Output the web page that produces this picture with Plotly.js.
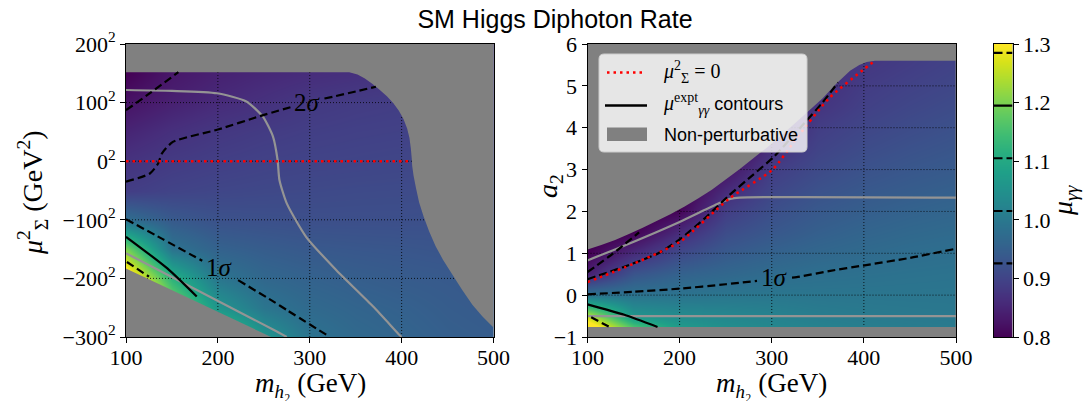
<!DOCTYPE html>
<html><head><meta charset="utf-8">
<script src="https://cdn.plot.ly/plotly-3.0.1.min.js"></script>
<style>html,body{margin:0;padding:0;background:#fff;} #chart{width:1086px;height:401px;}</style>
</head><body><div id="chart"></div>
<script>
// ---------- data ----------
const mH2 = [100,150,200,250,300,350,400,450,500];            // m_h2 grid (GeV)
const muSig = [-300,-250,-200,-150,-100,-50,0,50,100,150,200];  // signed sqrt(mu_Sigma^2)
const a2Vals = [-1,-0.5,0,0.5,1,1.5,2,2.5,3,3.5,4,4.5,5,5.5,6];

const muLeft = [
  [1.60,1.45,1.20,1.06,0.99,0.97,0.96,0.95,0.945],
  [1.50,1.22,1.06,0.995,0.97,0.96,0.953,0.945,0.94],
  [1.35,1.12,0.995,0.965,0.955,0.948,0.943,0.94,0.935],
  [1.20,0.99,0.955,0.945,0.938,0.935,0.933,0.93,0.93],
  [0.98,0.94,0.925,0.922,0.92,0.92,0.92,0.922,0.923],
  [0.89,0.90,0.905,0.908,0.91,0.912,0.913,0.914,0.915],
  [0.872,0.885,0.892,0.897,0.90,0.902,0.904,0.905,0.905],
  [0.85,0.868,0.88,0.887,0.892,0.895,0.897,0.90,0.90],
  [0.825,0.845,0.86,0.87,0.882,0.887,0.89,0.893,0.895],
  [0.80,0.83,0.845,0.855,0.862,0.868,0.875,0.88,0.885],
  [0.78,0.805,0.83,0.845,0.855,0.862,0.87,0.875,0.88]
];
const muRight = [
  [1.45,1.25,1.10,1.06,1.04,1.03,1.02,1.015,1.01],
  [1.25,1.06,1.04,1.03,1.02,1.01,1.005,1.002,1.0],
  [0.99,0.99,0.99,0.995,0.997,0.995,0.995,0.995,0.995],
  [0.845,0.93,0.955,0.965,0.975,0.982,0.985,0.988,0.99],
  [0.80,0.86,0.91,0.94,0.955,0.965,0.972,0.978,0.982],
  [0.78,0.80,0.86,0.915,0.935,0.95,0.96,0.967,0.972],
  [0.77,0.78,0.805,0.89,0.92,0.938,0.948,0.956,0.962],
  [0.77,0.78,0.79,0.86,0.905,0.925,0.937,0.945,0.952],
  [0.77,0.78,0.78,0.825,0.89,0.912,0.926,0.935,0.942],
  [0.77,0.78,0.78,0.80,0.865,0.90,0.915,0.925,0.933],
  [0.77,0.78,0.78,0.80,0.845,0.89,0.905,0.915,0.924],
  [0.77,0.78,0.78,0.80,0.83,0.875,0.895,0.906,0.915],
  [0.77,0.78,0.78,0.80,0.83,0.865,0.888,0.898,0.907],
  [0.77,0.78,0.78,0.80,0.83,0.86,0.88,0.89,0.90],
  [0.77,0.78,0.78,0.80,0.83,0.85,0.875,0.885,0.895]
];

// non-perturbative boundaries
const npLeftTopX = [100,343,352,360,368,376,384,391,397,402,406,408.5,410,411,411.5,413,415.5,419,424,430,437,445,455,466,477,488,500];
const npLeftTopY = [152,152,148,141,132,122,111,99,86,72,56,40,22,5,-8,-25,-45,-70,-95,-120,-145,-168,-193,-220,-245,-265,-284];
const npLeftBotX = [100,258];
const npLeftBotY = [-183,-300];
const npRightTopX = [100,115,130,145,160,175,190,205,220,235,250,265,280,295,310,325,340,355,370,385,395,403,412,500];
const npRightTopY = [1.09,1.2,1.32,1.46,1.61,1.77,1.93,2.11,2.31,2.52,2.76,3.01,3.27,3.53,3.81,4.1,4.4,4.7,5.05,5.36,5.5,5.57,5.6,5.6];
const npRightBot = -0.76;

// left panel contours
const lA_x = [100,126,157],            lA_y = [87,116,152];
const lB_x = [100,126,135,139,151,200,246,283,null,316,325,350,372];
const lB_y = [-35,-21,-4,13,33,54,77,94,null,107,110,119,127];
const lC_x = [100,140,183,null,222,261,275,322];
const lC_y = [-99,-133,-170,null,-203,-240,-254,-300];
const lD_x = [100,145,177],            lD_y = [-129,-183,-231];
const lE_x = [101,125],                lE_y = [-172,-197];
const lG1_x = [100,150,199,231,249,260,265,267,275,296,329,369,398,400];
const lG1_y = [121.5,120,116,102,76,42,2,-32,-72,-129,-186,-248,-297,-300];
const lG2_x = [100,261,275],           lG2_y = [-157,-288,-300];
const lRed_x = [100,411],              lRed_y = [0,0];

// right panel contours
const rA_x = [100,128,156],            rA_y = [0.55,1.0,1.5];
const rB_x = [100,140,176,200,228,254,280,302,335,355,372];
const rB_y = [0.38,0.68,0.99,1.33,1.85,2.39,2.88,3.30,4.10,4.6,5.08];
const rC_x = [100,150,200,250,284,null,322,327,363.5,399,450,500];
const rC_y = [0.02,0.08,0.155,0.26,0.34,null,0.42,0.43,0.58,0.706,0.89,1.11];
const rD_x = [100,140,176],            rD_y = [-0.22,-0.47,-0.76];
const rE_x = [104,123],                rE_y = [-0.53,-0.75];
const rG1_x = [100,145,200,242,255,265,500];
const rG1_y = [0.83,1.23,1.75,2.19,2.30,2.33,2.33];
const rG2_x = [100,500],               rG2_y = [-0.5,-0.5];
const rRed_x = [100,150,200,254,301,326,362,399,412];
const rRed_y = [0.31,0.75,1.27,2.31,3.0,3.72,4.7,5.38,5.6];

// colorbar
const cbRange = [0.8,1.3];
const cbLevels = [0.9258,1.015,1.105,1.195,1.285];
const cbSolid  = [false,false,false,true,false];

// ticks
const xTicks = [100,200,300,400,500];
const yTicksL = [200,100,0,-100,-200,-300];
const yTickTextL = ['200<sup>2</sup>','100<sup>2</sup>','0<sup>2</sup>','−100<sup>2</sup>','−200<sup>2</sup>','−300<sup>2</sup>'];
const yTicksR = [-1,0,1,2,3,4,5,6];
const yTickTextR = ['−1','0','1','2','3','4','5','6'];
const cbTicks = [0.8,0.9,1.0,1.1,1.2,1.3];
const cbTickText = ['0.8','0.9','1.0','1.1','1.2','1.3'];

// legend labels
const legendLabels = [
  '<i>μ</i><sup>2</sup><sub>Σ</sub> = 0',
  '<span style="font-family:Liberation Serif;font-size:20px"><i>μ</i><sup>expt</sup><sub><i>γγ</i></sub></span> contours',
  'Non-perturbative'
];

// ---------- drawing ----------
const W = 1086, H = 401;
const px = v => v / W, py = v => 1 - v / H;
const SERIF = 'Liberation Serif', SANS = 'Liberation Sans';
const GREY = '#808080', GREYLINE = '#949494';
const DASH = '8px,4px', DOT = '2.5px,4px';
const xr = [100,500], yrL = [-300,200], yrR = [-1,6];

function gridTrace(xt, yt, xrange, yrange, xa, ya){
  const gx = [], gy = [];
  xt.forEach(v => { if (v > xrange[0] && v < xrange[1]) { gx.push(v,v,null); gy.push(yrange[0],yrange[1],null); }});
  yt.forEach(v => { if (v > yrange[0] && v < yrange[1]) { gx.push(xrange[0],xrange[1],null); gy.push(v,v,null); }});
  return {type:'scatter', mode:'lines', x:gx, y:gy, xaxis:xa, yaxis:ya, showlegend:false, hoverinfo:'skip',
          line:{color:'rgba(0,0,0,0.8)', width:1, dash:'1px,2px'}};
}
function line(x, y, xa, ya, color, dash, width){
  return {type:'scatter', mode:'lines', x:x, y:y, xaxis:xa, yaxis:ya, showlegend:false, hoverinfo:'skip',
    connectgaps:false, line:{color:color, dash:dash, width:width, shape:'spline', smoothing:0.6}};
}
function fillPoly(x, y, xa, ya){
  return {type:'scatter', mode:'none', x:x, y:y, xaxis:xa, yaxis:ya, fill:'toself', fillcolor:GREY,
    showlegend:false, hoverinfo:'skip'};
}

const traces = [];
traces.push({type:'heatmap', x:mH2, y:muSig, z:muLeft, xaxis:'x', yaxis:'y', colorscale:'Viridis', zmin:cbRange[0], zmax:cbRange[1],
  zsmooth:'best', hoverinfo:'skip', showscale:false});
traces.push({type:'heatmap', x:mH2, y:a2Vals, z:muRight, xaxis:'x2', yaxis:'y2', colorscale:'Viridis', zmin:cbRange[0], zmax:cbRange[1],
  zsmooth:'best', hoverinfo:'skip', showscale:false});
// colour bar as its own small axis
traces.push({type:'heatmap', x:[0,1], y:cbRange, z:cbRange.map(v => [v,v]), xaxis:'x3', yaxis:'y3', colorscale:'Viridis',
  zmin:cbRange[0], zmax:cbRange[1], zsmooth:'best', hoverinfo:'skip', showscale:false});

traces.push(gridTrace(xTicks, yTicksL, xr, yrL, 'x', 'y'));
traces.push(gridTrace(xTicks, yTicksR, xr, yrR, 'x2', 'y2'));

// non-perturbative regions
traces.push(fillPoly([xr[0]].concat(npLeftTopX, [xr[1]]), [yrL[1]].concat(npLeftTopY, [yrL[1]]), 'x', 'y'));
traces.push(fillPoly(npLeftBotX.concat([xr[0]]), npLeftBotY.concat([yrL[0]]), 'x', 'y'));
traces.push(fillPoly([xr[0]].concat(npRightTopX, [xr[1]]), [yrR[1]].concat(npRightTopY, [yrR[1]]), 'x2', 'y2'));
traces.push(fillPoly([xr[0],xr[1],xr[1],xr[0]], [yrR[0],yrR[0],npRightBot,npRightBot], 'x2', 'y2'));

// grey lines
traces.push(line(lG1_x, lG1_y, 'x', 'y', GREYLINE, 'solid', 2.2));
traces.push(line(lG2_x, lG2_y, 'x', 'y', GREYLINE, 'solid', 2.2));
traces.push(line(rG1_x, rG1_y, 'x2', 'y2', GREYLINE, 'solid', 2.2));
traces.push(line(rG2_x, rG2_y, 'x2', 'y2', GREYLINE, 'solid', 2.2));

// contours
[[lA_x,lA_y],[lB_x,lB_y],[lC_x,lC_y],[lE_x,lE_y]].forEach(p => traces.push(line(p[0], p[1], 'x', 'y', '#000', DASH, 2.2)));
traces.push(line(lD_x, lD_y, 'x', 'y', '#000', 'solid', 2.2));
[[rA_x,rA_y],[rB_x,rB_y],[rC_x,rC_y],[rE_x,rE_y]].forEach(p => traces.push(line(p[0], p[1], 'x2', 'y2', '#000', DASH, 2.2)));
traces.push(line(rD_x, rD_y, 'x2', 'y2', '#000', 'solid', 2.2));

// mu_Sigma^2 = 0
traces.push(line(lRed_x, lRed_y, 'x', 'y', '#ff0000', DOT, 2.5));
traces.push(line(rRed_x, rRed_y, 'x2', 'y2', '#ff0000', DOT, 2.5));

// colorbar contour marks
cbLevels.forEach((v,i) => traces.push({type:'scatter', mode:'lines', x:[0,1], y:[v,v], xaxis:'x3', yaxis:'y3',
  showlegend:false, hoverinfo:'skip', line:{color:'#000', width:2.2, dash: cbSolid[i] ? 'solid' : '9px,4px'}}));

const yDom = [(H-337)/H, (H-44)/H];
const axBase = {showline:true, linecolor:'#000', linewidth:1, mirror:true, ticks:'outside', ticklen:5, tickwidth:1,
  tickcolor:'#000', showgrid:false, zeroline:false, tickfont:{family:SERIF, size:22, color:'#000'}, fixedrange:true};

// legend (drawn as shapes + text, matplotlib style with rounded frame)
const L = {x0:599, x1:807, y0:54, y1:152, r:5};
const roundRect = `M ${px(L.x0+L.r)},${py(L.y0)} L ${px(L.x1-L.r)},${py(L.y0)} Q ${px(L.x1)},${py(L.y0)} ${px(L.x1)},${py(L.y0+L.r)} ` +
  `L ${px(L.x1)},${py(L.y1-L.r)} Q ${px(L.x1)},${py(L.y1)} ${px(L.x1-L.r)},${py(L.y1)} L ${px(L.x0+L.r)},${py(L.y1)} ` +
  `Q ${px(L.x0)},${py(L.y1)} ${px(L.x0)},${py(L.y1-L.r)} L ${px(L.x0)},${py(L.y0+L.r)} Q ${px(L.x0)},${py(L.y0)} ${px(L.x0+L.r)},${py(L.y0)} Z`;
const shapes = [
  {type:'path', path:roundRect, xref:'paper', yref:'paper', fillcolor:'rgba(255,255,255,0.8)', line:{color:'#cccccc', width:1}, layer:'above'},
  {type:'line', xref:'paper', yref:'paper', x0:px(607), x1:px(645), y0:py(72.5), y1:py(72.5), line:{color:'#ff0000', width:2.5, dash:DOT}, layer:'above'},
  {type:'line', xref:'paper', yref:'paper', x0:px(605), x1:px(647), y0:py(105.5), y1:py(105.5), line:{color:'#000', width:2.5}, layer:'above'},
  {type:'rect', xref:'paper', yref:'paper', x0:px(607), x1:px(647), y0:py(141), y1:py(127.5), fillcolor:GREY, line:{width:0}, layer:'above'}
];

function ann(text, x, y, xref, yref, size, family, extra){
  return Object.assign({text:text, x:x, y:y, xref:xref, yref:yref, showarrow:false, xanchor:'center', yanchor:'middle',
    font:{family:family||SERIF, size:size, color:'#000'}}, extra||{});
}

const layout = {
  width:W, height:H, margin:{l:0,r:0,t:0,b:0}, paper_bgcolor:'#fff', plot_bgcolor:GREY, showlegend:false,
  title:{text:'SM Higgs Diphoton Rate', font:{family:SANS, size:25, color:'#000'}, x:555/W, xanchor:'center', y:1-19/H, yanchor:'middle'},
  xaxis:Object.assign({}, axBase, {domain:[126/W, 493.5/W], range:xr, tickvals:xTicks, anchor:'y', ticklabelstandoff:-4}),
  yaxis:Object.assign({}, axBase, {domain:yDom, range:yrL, tickvals:yTicksL, ticktext:yTickTextL, anchor:'x'}),
  xaxis2:Object.assign({}, axBase, {domain:[587.5/W, 956/W], range:xr, tickvals:xTicks, anchor:'y2', ticklabelstandoff:-4}),
  yaxis2:Object.assign({}, axBase, {domain:yDom, range:yrR, tickvals:yTicksR, ticktext:yTickTextR, anchor:'x2'}),
  xaxis3:{domain:[993.5/W, 1012.5/W], range:[0,1], anchor:'y3', fixedrange:true, showline:true, mirror:true, linecolor:'#000',
    linewidth:1, ticks:'', showticklabels:false, showgrid:false, zeroline:false},
  yaxis3:Object.assign({}, axBase, {domain:yDom, range:cbRange, anchor:'x3', side:'right', tickvals:cbTicks, ticktext:cbTickText}),
  shapes:shapes,
  annotations:[
    ann('2<i>σ</i>', 298, 100, 'x', 'y', 25),
    ann('1<i>σ</i>', 202, -181, 'x', 'y', 25),
    ann('1<i>σ</i>', 303, 0.41, 'x2', 'y2', 25),
    ann('<i>m</i><sub><i>h</i>₂</sub> (GeV)', px(310), py(366), 'paper', 'paper', 27, SERIF, {yanchor:'top'}),
    ann('<i>m</i><sub><i>h</i>₂</sub> (GeV)', px(771.5), py(366), 'paper', 'paper', 27, SERIF, {yanchor:'top'}),
    ann('<i>μ</i><sup>2</sup><sub>Σ</sub> (GeV<sup>2</sup>)', px(32), py(193), 'paper', 'paper', 28, SERIF, {textangle:-90}),
    ann('<i>a</i><sub>2</sub>', px(549), py(186), 'paper', 'paper', 28, SERIF, {textangle:-90}),
    ann('<i>μ</i><sub><i>γγ</i></sub>', px(1064), py(200), 'paper', 'paper', 28, SERIF, {textangle:-90}),
    ann(legendLabels[0], px(661), py(72), 'paper', 'paper', 20, SERIF, {xanchor:'left'}),
    ann(legendLabels[1], px(661), py(104), 'paper', 'paper', 18, SANS, {xanchor:'left'}),
    ann(legendLabels[2], px(662), py(135), 'paper', 'paper', 18, SANS, {xanchor:'left'})
  ]
};

Plotly.newPlot('chart', traces, layout, {staticPlot:true, displayModeBar:false});
</script></body></html>
